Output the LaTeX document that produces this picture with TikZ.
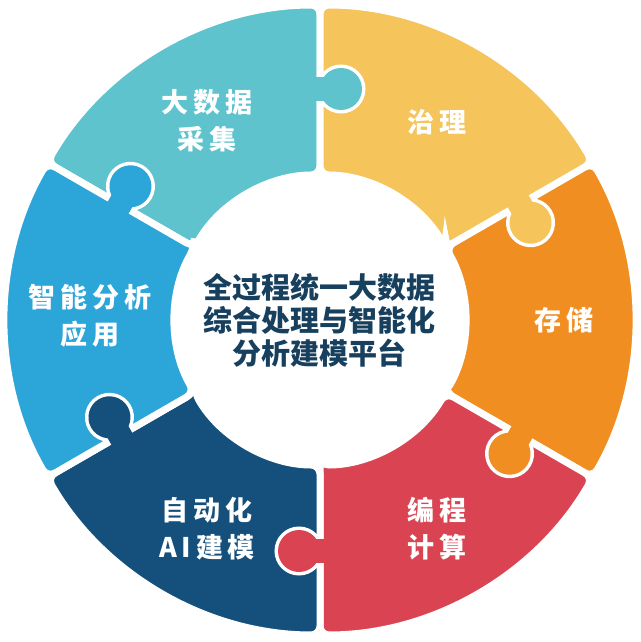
\documentclass[tikz,border=0pt]{standalone}
\usepackage{fontspec}
\newfontfamily\cjk{Noto Sans CJK SC}[LetterSpace=18]
\newfontfamily\cjkc{Noto Sans CJK SC}
\definecolor{cteal}{HTML}{5EC3CD}
\definecolor{cyel}{HTML}{F5C45A}
\definecolor{corg}{HTML}{F18E22}
\definecolor{cred}{HTML}{DA4452}
\definecolor{cnavy}{HTML}{15507C}
\definecolor{cblue}{HTML}{2CA5D8}
\definecolor{ctext}{HTML}{173F5E}
\tikzset{
  gap/.style={draw=white,line width=7pt},
  lbl/.style={text=white,font=\cjk\bfseries\fontsize{27}{37}\selectfont,align=center},
}
\newcommand{\mysector}[2]{%
  \fill[#2,gap,rounded corners=9pt] (#1:145) -- (#1:315) arc[start angle=#1,end angle=#1+60,radius=315] -- (#1+60:145) arc[start angle=#1+60,end angle=#1,radius=145] -- cycle;}
\newcommand{\myknob}[2]{%
  \begin{scope}[rotate=#1]
    \begin{scope}
      \clip (100,0) rectangle (330,-80);
      \fill[#2,gap] (219,-18) rectangle (243,4);
      \fill[#2,gap] (231,-21) circle[radius=21];
    \end{scope}
    \fill[#2] (219,-18) rectangle (243,8);
    \fill[#2] (231,-21) circle[radius=21];
  \end{scope}}
\begin{document}
\begin{tikzpicture}[x=1pt,y=1pt]
\fill[white] (-320,-322) rectangle (320,320);
\useasboundingbox (-320,-322) rectangle (320,320);
\mysector{90}{cteal}
\mysector{30}{cyel}
\mysector{-30}{corg}
\mysector{-90}{cred}
\mysector{-150}{cnavy}
\mysector{150}{cblue}
\myknob{90}{cteal}
\myknob{30}{cyel}
\myknob{-30}{corg}
\myknob{-90}{cred}
\myknob{-150}{cnavy}
\myknob{150}{cblue}
\node[lbl] (t1) at (-113,199) {大数据\\采集};
\node[lbl] (t2) at (117,198) {治理};
\node[lbl] (t3) at (244,0) {存储};
\node[lbl] (t4) at (117,-209) {编程\\计算};
\node[lbl] (t5) at (-113,-209) {自动化\\AI建模};
\node[lbl] (t6) at (-230,4) {智能分析\\应用};
\node[text=ctext,font=\cjkc\bfseries\fontsize{29}{33}\selectfont,align=center] (c) at (0,0) {全过程统一大数据\\综合处理与智能化\\分析建模平台};
\end{tikzpicture}
\end{document}
